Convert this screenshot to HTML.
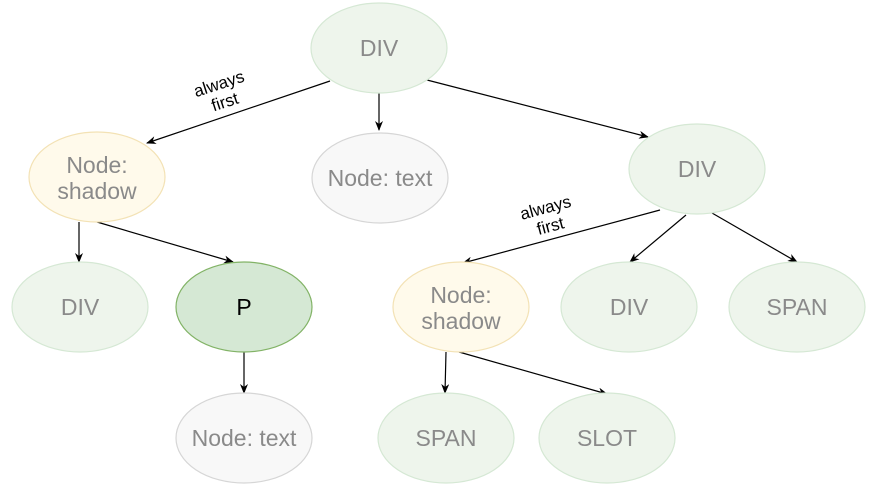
<!DOCTYPE html>
<html><head><meta charset="utf-8"><style>
html,body{margin:0;padding:0;background:#fff;}
svg{display:block;font-family:"Liberation Sans",Arial,sans-serif;}
</style></head><body>
<svg width="875" height="497" viewBox="0 0 875 497" xmlns="http://www.w3.org/2000/svg">
<defs>
<marker id="a" markerWidth="10" markerHeight="8" refX="9" refY="4" orient="auto" markerUnits="userSpaceOnUse">
<path d="M0,0 L10,4 L0,8 L3,4 z" fill="#000"/>
</marker>
</defs>
<g stroke="#000" stroke-width="1.2" fill="none" marker-end="url(#a)">
<line x1="330" y1="81" x2="147" y2="143"/>
<line x1="379" y1="93" x2="379" y2="130"/>
<line x1="427" y1="80" x2="648" y2="137"/>
<line x1="79" y1="222" x2="79" y2="262"/>
<line x1="97" y1="222" x2="233" y2="262"/>
<line x1="660" y1="210" x2="463" y2="263"/>
<line x1="686" y1="215" x2="630" y2="262"/>
<line x1="712" y1="213" x2="797" y2="262"/>
<line x1="244" y1="352" x2="244" y2="393"/>
<line x1="446" y1="352" x2="445" y2="393"/>
<line x1="459" y1="352" x2="607" y2="394"/>
</g>
<g font-size="23" text-anchor="middle" dominant-baseline="central">
<g fill="#eef5ec" stroke="#d5e8d4" stroke-width="1.2">
<ellipse cx="379" cy="48" rx="68" ry="45"/>
<ellipse cx="697" cy="169" rx="68" ry="45"/>
<ellipse cx="80" cy="307" rx="68" ry="45"/>
<ellipse cx="629" cy="307" rx="68" ry="45"/>
<ellipse cx="797" cy="307" rx="68" ry="45"/>
<ellipse cx="446" cy="438" rx="68" ry="45"/>
<ellipse cx="607" cy="438" rx="68" ry="45"/>
</g>
<g fill="#fffaeb" stroke="#f3e2b5" stroke-width="1.2">
<ellipse cx="97" cy="177" rx="68" ry="45"/>
<ellipse cx="461" cy="307" rx="68" ry="45"/>
</g>
<g fill="#f8f8f8" stroke="#d6d6d6" stroke-width="1.2">
<ellipse cx="380" cy="178" rx="68" ry="45"/>
<ellipse cx="244" cy="438" rx="68" ry="45"/>
</g>
<ellipse cx="244" cy="307" rx="68" ry="45" fill="#d5e8d4" stroke="#82b366" stroke-width="1.2"/>
<g fill="#8a8a8a">
<text x="379" y="48">DIV</text>
<text x="697" y="169">DIV</text>
<text x="80" y="307">DIV</text>
<text x="629" y="307">DIV</text>
<text x="797" y="307">SPAN</text>
<text x="446" y="438">SPAN</text>
<text x="607" y="438">SLOT</text>
<text x="380" y="178">Node: text</text>
<text x="244" y="438">Node: text</text>
<text x="97" y="165">Node:</text>
<text x="97" y="191">shadow</text>
<text x="461" y="295">Node:</text>
<text x="461" y="321">shadow</text>
</g>
<text x="244" y="307" fill="#000">P</text>
</g>
<g font-size="17" text-anchor="middle" fill="#000">
<g transform="translate(222,93) rotate(-18)">
<text x="0" y="-4">always</text>
<text x="0" y="15">first</text>
</g>
<g transform="translate(548,217) rotate(-15)">
<text x="0" y="-4">always</text>
<text x="0" y="15">first</text>
</g>
</g>
</svg>
</body></html>
